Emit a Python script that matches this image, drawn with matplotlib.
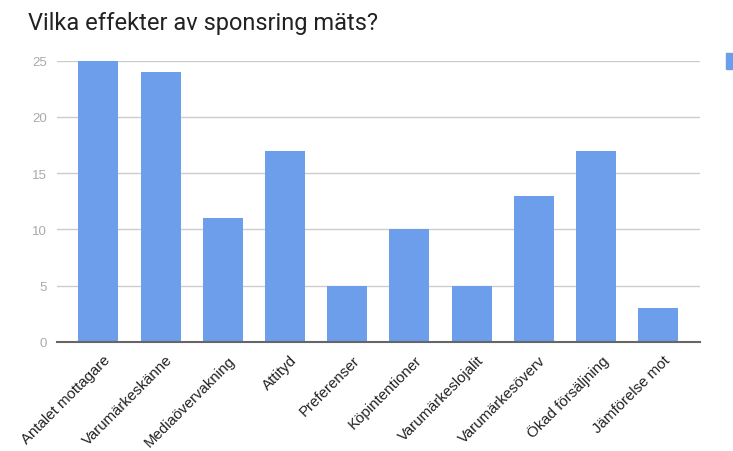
import matplotlib
matplotlib.use("Agg")
import matplotlib.pyplot as plt
from matplotlib.patches import Rectangle
import matplotlib.transforms as mtransforms

title = "Vilka effekter av sponsring mäts?"
categories = ["Antalet mottagare", "Varumärkeskänne", "Mediaövervakning", "Attityd",
              "Preferenser", "Köpintentioner", "Varumärkeslojalit", "Varumärkesöverv",
              "Ökad försäljning", "Jämförelse mot"]
values = [25, 24, 11, 17, 5, 10, 5, 13, 17, 3]
yticks = [0, 5, 10, 15, 20, 25]

bar_color = "#6d9eeb"

fig = plt.figure(figsize=(7.33, 4.52), dpi=100)
ax = fig.add_axes([0.0774, 0.2418, 0.955 - 0.0774, 0.8635 - 0.2418])

x = list(range(len(categories)))
ax.bar(x, values, width=0.643, color=bar_color, zorder=3)

ax.set_xlim(-0.67, len(categories) - 1 + 0.67)
ax.set_ylim(0, 25)
ax.set_yticks(yticks)
ax.set_yticklabels([str(v) for v in yticks], fontfamily="Liberation Sans",
                   fontsize=9.5, color="#aaaaaa")
ax.tick_params(axis="y", length=0, pad=7)
ax.tick_params(axis="x", length=0, pad=2)
ax.yaxis.grid(True, color="#cccccc", linewidth=1, zorder=0)
ax.xaxis.grid(False)
for s in ["top", "right", "left"]:
    ax.spines[s].set_visible(False)
ax.spines["bottom"].set_color("#666666")
ax.spines["bottom"].set_linewidth(1.5)
ax.spines["bottom"].set_zorder(4)

ax.set_xticks(x)
offset = mtransforms.ScaledTranslation(5 / 100, -8 / 100, fig.dpi_scale_trans)
labels = ax.set_xticklabels(categories, rotation=45, ha="right", va="top",
                            rotation_mode="anchor", fontfamily="Liberation Sans",
                            fontsize=10.8, color="#222222")
for lab in labels:
    lab.set_transform(lab.get_transform() + offset)

fig.text(28 / 733, 1 - 30 / 452, title, fontfamily="Roboto", fontsize=17,
         color="#222222", ha="left", va="baseline")

# partially visible legend marker at the right edge
fig.patches.append(Rectangle((726 / 733, 1 - 70 / 452), 12 / 733, 16 / 452,
                             transform=fig.transFigure, color=bar_color))

fig.savefig("out.png", dpi=100)
